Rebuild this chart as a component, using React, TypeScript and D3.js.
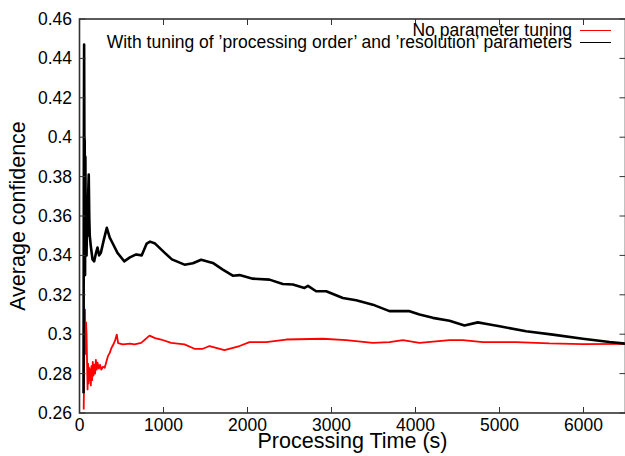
import React from "react";
import * as d3 from "d3";

const xTicks = [0, 1000, 2000, 3000, 4000, 5000, 6000];
const yTicks = [0.26, 0.28, 0.3, 0.32, 0.34, 0.36, 0.38, 0.4, 0.42, 0.44, 0.46];
const yTickLabels = ["0.26", "0.28", "0.3", "0.32", "0.34", "0.36", "0.38", "0.4", "0.42", "0.44", "0.46"];

const seriesNames = [
  "No parameter tuning",
  "With tuning of \u2019processing order\u2019 and \u2019resolution\u2019 parameters",
];

// No parameter tuning (time s, average confidence)
const noTuning: [number, number][] = [
  [50, 0.2618], [54, 0.275], [60, 0.31], [66, 0.3125], [72, 0.29], [78, 0.306], [84, 0.3],
  [90, 0.2863], [96, 0.272], [102, 0.285], [108, 0.275], [114, 0.283], [120, 0.2767],
  [128, 0.2821], [135, 0.274], [142, 0.2838], [150, 0.2767], [158, 0.286], [166, 0.279],
  [175, 0.2846], [185, 0.28], [195, 0.287], [205, 0.282], [215, 0.2855], [230, 0.2825],
  [245, 0.2845], [260, 0.282], [280, 0.2835], [300, 0.283], [320, 0.286], [340, 0.289],
  [360, 0.2905], [380, 0.293], [400, 0.2945], [425, 0.297], [444, 0.2998], [460, 0.2955],
  [516, 0.2948], [600, 0.2952], [655, 0.2948], [734, 0.2956], [833, 0.2993], [900, 0.298],
  [972, 0.2973], [1091, 0.2956], [1250, 0.2948], [1369, 0.2926], [1468, 0.2926], [1548, 0.294],
  [1726, 0.2919], [1905, 0.294], [2024, 0.296], [2222, 0.296], [2460, 0.2973], [2897, 0.2977],
  [3175, 0.297], [3492, 0.2956], [3690, 0.296], [3849, 0.297], [4048, 0.2956], [4405, 0.297],
  [4563, 0.297], [4802, 0.296], [5198, 0.296], [5595, 0.2953], [5992, 0.295], [6500, 0.2951],
];

// With tuning (time s, average confidence)
const withTuning: [number, number][] = [
  [48, 0.27], [52, 0.4], [55, 0.447], [58, 0.4], [62, 0.398], [66, 0.33], [70, 0.39],
  [74, 0.35], [78, 0.37], [84, 0.34], [90, 0.36], [96, 0.35], [104, 0.372], [110, 0.381],
  [116, 0.36], [122, 0.35], [135, 0.3446], [155, 0.338], [175, 0.337], [195, 0.341],
  [214, 0.344], [234, 0.34], [254, 0.3413], [290, 0.348], [325, 0.354], [360, 0.349],
  [393, 0.3463], [452, 0.3413], [532, 0.337], [600, 0.339], [675, 0.3405], [740, 0.34],
  [800, 0.346], [840, 0.347], [900, 0.346], [1012, 0.3414], [1100, 0.338], [1250, 0.3353],
  [1350, 0.336], [1448, 0.3378], [1587, 0.3362], [1706, 0.3328], [1825, 0.3297], [1905, 0.33],
  [2063, 0.3282], [2262, 0.3277], [2420, 0.3255], [2540, 0.3252], [2678, 0.3235], [2720, 0.3245],
  [2817, 0.3218], [2937, 0.3218], [3135, 0.3184], [3294, 0.3172], [3492, 0.315], [3690, 0.3117],
  [3929, 0.3117], [4048, 0.31], [4206, 0.3083], [4405, 0.3068], [4583, 0.3044], [4742, 0.306],
  [4850, 0.3052], [5000, 0.304], [5317, 0.3015], [5635, 0.2998], [5992, 0.2977], [6310, 0.296],
  [6500, 0.2952],
];

const W = 625;
const H = 456;
const L = 79.5;
const R = 625.5;
const T = 19;
const B = 413;
const FONT = "'Liberation Sans', Arial, Helvetica, sans-serif";
const AXIS = "#333";

export default function App() {
  const x = d3.scaleLinear().domain([0, 6500]).range([L, R]);
  const y = d3.scaleLinear().domain([0.26, 0.46]).range([B, T]);
  const line = d3
    .line<[number, number]>()
    .x((d) => x(d[0]))
    .y((d) => y(d[1]));
  const tick = 6;

  return (
    <svg
      width={W}
      height={H}
      style={{ position: "absolute", left: 0, top: 0, background: "#fff" }}
      fontFamily={FONT}
    >
      <defs>
        <clipPath id="plot">
          <rect x={L} y={T} width={R - L} height={B - T} />
        </clipPath>
      </defs>
      <rect x={0} y={0} width={W} height={H} fill="#fff" />
      <g clipPath="url(#plot)">
        <path d={line(noTuning) || ""} fill="none" stroke="#ff0000" strokeWidth={1.8} strokeLinejoin="round" />
        <path d={line(withTuning) || ""} fill="none" stroke="#000" strokeWidth={2.6} strokeLinejoin="round" />
      </g>
      {xTicks.map((t) => (
        <g key={"xt" + t}>
          <line x1={x(t)} x2={x(t)} y1={B} y2={B - tick} stroke={AXIS} strokeWidth={1} />
          <line x1={x(t)} x2={x(t)} y1={T} y2={T + tick} stroke={AXIS} strokeWidth={1} />
          <text x={x(t)} y={431} textAnchor="middle" fontSize={17.5} fill="#000">
            {t}
          </text>
        </g>
      ))}
      {yTicks.map((t, i) => (
        <g key={"yt" + t}>
          <line x1={L} x2={L + tick} y1={y(t)} y2={y(t)} stroke={AXIS} strokeWidth={1} />
          <line x1={R} x2={R - tick} y1={y(t)} y2={y(t)} stroke={AXIS} strokeWidth={1} />
          <text x={72} y={y(t) + 6} textAnchor="end" fontSize={17.5} fill="#000">
            {yTickLabels[i]}
          </text>
        </g>
      ))}
      <rect x={L} y={T} width={R - L} height={B - T} fill="none" stroke={AXIS} strokeWidth={1.6} />
      <text x={(L + R) / 2} y={448} textAnchor="middle" fontSize={21.5} fill="#000">
        Processing Time (s)
      </text>
      <text
        transform={`translate(25,${(T + B) / 2}) rotate(-90)`}
        textAnchor="middle"
        fontSize={21.5}
        fill="#000"
      >
        Average confidence
      </text>
      <text x={572} y={35.5} textAnchor="end" fontSize={17.5} fill="#000">
        {seriesNames[0]}
      </text>
      <line x1={580} x2={611} y1={30.5} y2={30.5} stroke="#ff0000" strokeWidth={1} />
      <text x={572} y={48} textAnchor="end" fontSize={17.5} fill="#000">
        {seriesNames[1]}
      </text>
      <line x1={580} x2={611} y1={42.5} y2={42.5} stroke="#000" strokeWidth={1} />
    </svg>
  );
}
